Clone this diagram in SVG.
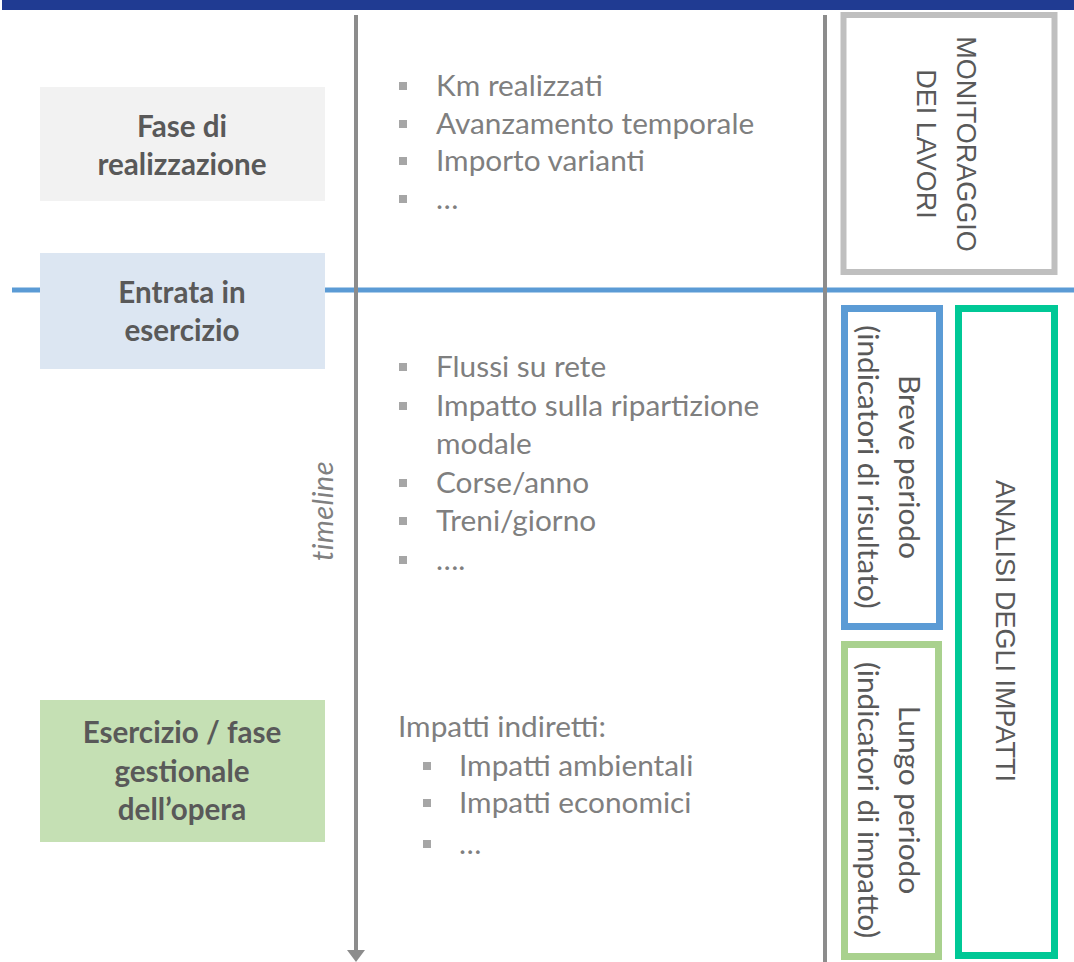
<svg xmlns="http://www.w3.org/2000/svg" width="1074" height="962" viewBox="0 0 1074 962">
<style>
.lbl{font-family:Lato,"Open Sans",sans-serif;font-weight:bold;font-size:29.6px;fill:#595959;text-anchor:middle}
.itm{font-family:Lato,"Open Sans",sans-serif;font-size:29.8px;fill:#7f7f7f}
.bul{fill:#a6a6a6}
.vt{font-family:"Liberation Sans",Arial,sans-serif;font-size:27px;fill:#595959;text-anchor:middle}
.vc{font-family:Lato,"Open Sans",sans-serif;font-size:29.8px;fill:#595959;text-anchor:middle}
.axis{stroke:#8c8c8c;stroke-width:4;fill:none}
</style>
<defs>
<marker id="ah" markerUnits="userSpaceOnUse" markerWidth="14" markerHeight="20" refX="0" refY="10" orient="auto" viewBox="0 0 14 20"><path d="M0,1 L12,10 L0,19 Z" fill="#8c8c8c"/></marker>
</defs>
<rect width="1074" height="962" fill="#ffffff"/>
<rect x="2" y="0" width="1072" height="10" fill="#203b92"/>
<g id="connectors">
<line x1="12" y1="290" x2="1074" y2="290" stroke="#5b9bd5" stroke-width="5"/>
<line class="axis" x1="356" y1="15" x2="356" y2="950" marker-end="url(#ah)"/>
<line class="axis" x1="825" y1="15" x2="825" y2="962"/>
</g>
<g id="fase-realizzazione">
<rect x="40" y="87" width="285" height="114" fill="#f2f2f2"/>
<text class="lbl" x="182" y="137">Fase di</text>
<text class="lbl" x="182" y="175">realizzazione</text>
</g>
<g id="entrata-esercizio">
<rect x="40" y="253" width="285" height="116" fill="#dce6f2"/>
<text class="lbl" x="182" y="303">Entrata in</text>
<text class="lbl" x="182" y="341">esercizio</text>
</g>
<g id="esercizio-gestionale">
<rect x="40" y="700" width="285" height="142" fill="#c5e0b4"/>
<text class="lbl" x="182" y="743">Esercizio / fase</text>
<text class="lbl" x="182" y="782">gestionale</text>
<text class="lbl" x="182" y="820">dell’opera</text>
</g>
<g id="timeline-label">
<text transform="translate(333,511) rotate(-90)" text-anchor="middle" font-family="Lato,'Open Sans',sans-serif" font-style="italic" font-size="29" fill="#808080" letter-spacing="0.5">timeline</text>
</g>
<g id="lista-realizzazione">
<rect class="bul" x="399" y="82" width="8" height="8"/>
<text class="itm" x="436" y="96">Km realizzati</text>
<rect class="bul" x="399" y="120" width="8" height="8"/>
<text class="itm" x="436" y="134">Avanzamento temporale</text>
<rect class="bul" x="399" y="157" width="8" height="8"/>
<text class="itm" x="436" y="171">Importo varianti</text>
<rect class="bul" x="399" y="195" width="8" height="8"/>
<text class="itm" x="436" y="209">…</text>
</g>
<g id="lista-esercizio">
<rect class="bul" x="399" y="363" width="8" height="8"/>
<text class="itm" x="436" y="377">Flussi su rete</text>
<rect class="bul" x="399" y="402" width="8" height="8"/>
<text class="itm" x="436" y="416">Impatto sulla ripartizione</text>
<text class="itm" x="436" y="454">modale</text>
<rect class="bul" x="399" y="479" width="8" height="8"/>
<text class="itm" x="436" y="493">Corse/anno</text>
<rect class="bul" x="399" y="517" width="8" height="8"/>
<text class="itm" x="436" y="531">Treni/giorno</text>
<rect class="bul" x="399" y="556" width="8" height="8"/>
<text class="itm" x="436" y="570">….</text>
</g>
<g id="lista-impatti">
<text class="itm" x="398" y="737">Impatti indiretti:</text>
<rect class="bul" x="423" y="762" width="8" height="8"/>
<text class="itm" x="459" y="776">Impatti ambientali</text>
<rect class="bul" x="423" y="799" width="8" height="8"/>
<text class="itm" x="459" y="813">Impatti economici</text>
<rect class="bul" x="423" y="840" width="8" height="8"/>
<text class="itm" x="459" y="854">…</text>
</g>
<g id="monitoraggio">
<rect x="843.5" y="15" width="211" height="257" fill="none" stroke="#bfbfbf" stroke-width="6"/>
<text class="vt" transform="translate(957,144) rotate(90)">MONITORAGGIO</text>
<text class="vt" transform="translate(917,144) rotate(90)">DEI LAVORI</text>
</g>
<g id="breve-periodo">
<rect x="844.5" y="308.5" width="95" height="318" fill="none" stroke="#5b9bd5" stroke-width="7"/>
<text class="vc" transform="translate(899,467) rotate(90)">Breve periodo</text>
<text class="vc" transform="translate(858,467) rotate(90)">(indicatori di risultato)</text>
</g>
<g id="lungo-periodo">
<rect x="844.5" y="644.5" width="94" height="312" fill="none" stroke="#a9d18e" stroke-width="7"/>
<text class="vc" transform="translate(899,800) rotate(90)">Lungo periodo</text>
<text class="vc" transform="translate(858,800) rotate(90)">(indicatori di impatto)</text>
</g>
<g id="analisi-impatti">
<rect x="958.5" y="308.5" width="96" height="647" fill="none" stroke="#00c896" stroke-width="7"/>
<text class="vt" transform="translate(996,631) rotate(90)">ANALISI DEGLI IMPATTI</text>
</g>
</svg>
